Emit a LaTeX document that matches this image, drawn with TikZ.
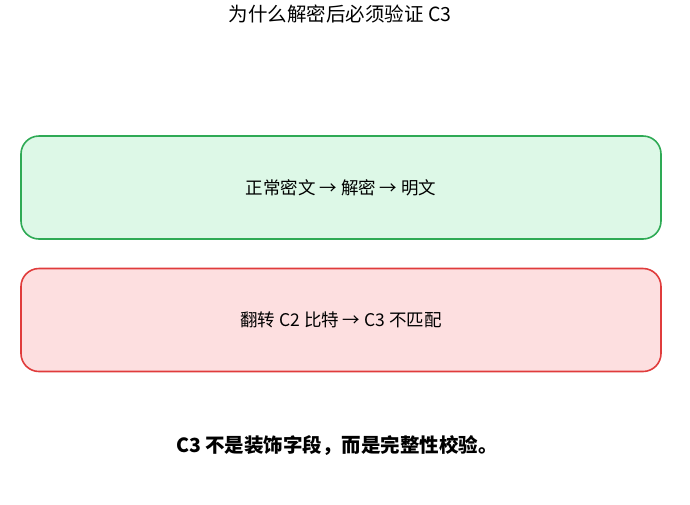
\documentclass[tikz,border=0pt]{standalone}
\usepackage{fontspec}
\setmainfont{Noto Sans CJK SC}
\usepackage{tikz}
\usetikzlibrary{calc}

\definecolor{okfill}{HTML}{DDF8E7}
\definecolor{okline}{HTML}{2EAA55}
\definecolor{badfill}{HTML}{FDDFE0}
\definecolor{badline}{HTML}{E03C3C}

\begin{document}
\begin{tikzpicture}[x=1pt,y=-1pt,
		box/.style={draw,line width=1.6pt,rounded corners=18pt,minimum width=640pt,minimum height=103pt,font=\fontsize{17.5}{21}\selectfont}]
		\useasboundingbox (0,0) rectangle (690,504);
		\coordinate (top) at (340,14);
		\node[font=\fontsize{19.5}{23}\selectfont] (title) at (top) {为什么解密后必须验证 C3};
		\node[box,draw=okline,fill=okfill] (normal) at (341,187.5) {正常密文 → 解密 → 明文};
		\node[box,draw=badline,fill=badfill] (flip) at (341,320) {翻转 C2 比特 → C3 不匹配};
		\node[font=\fontsize{19.5}{23}\selectfont\bfseries] (note) at (337,446) {C3 不是装饰字段，而是完整性校验。};
	\end{tikzpicture}
\end{document}
